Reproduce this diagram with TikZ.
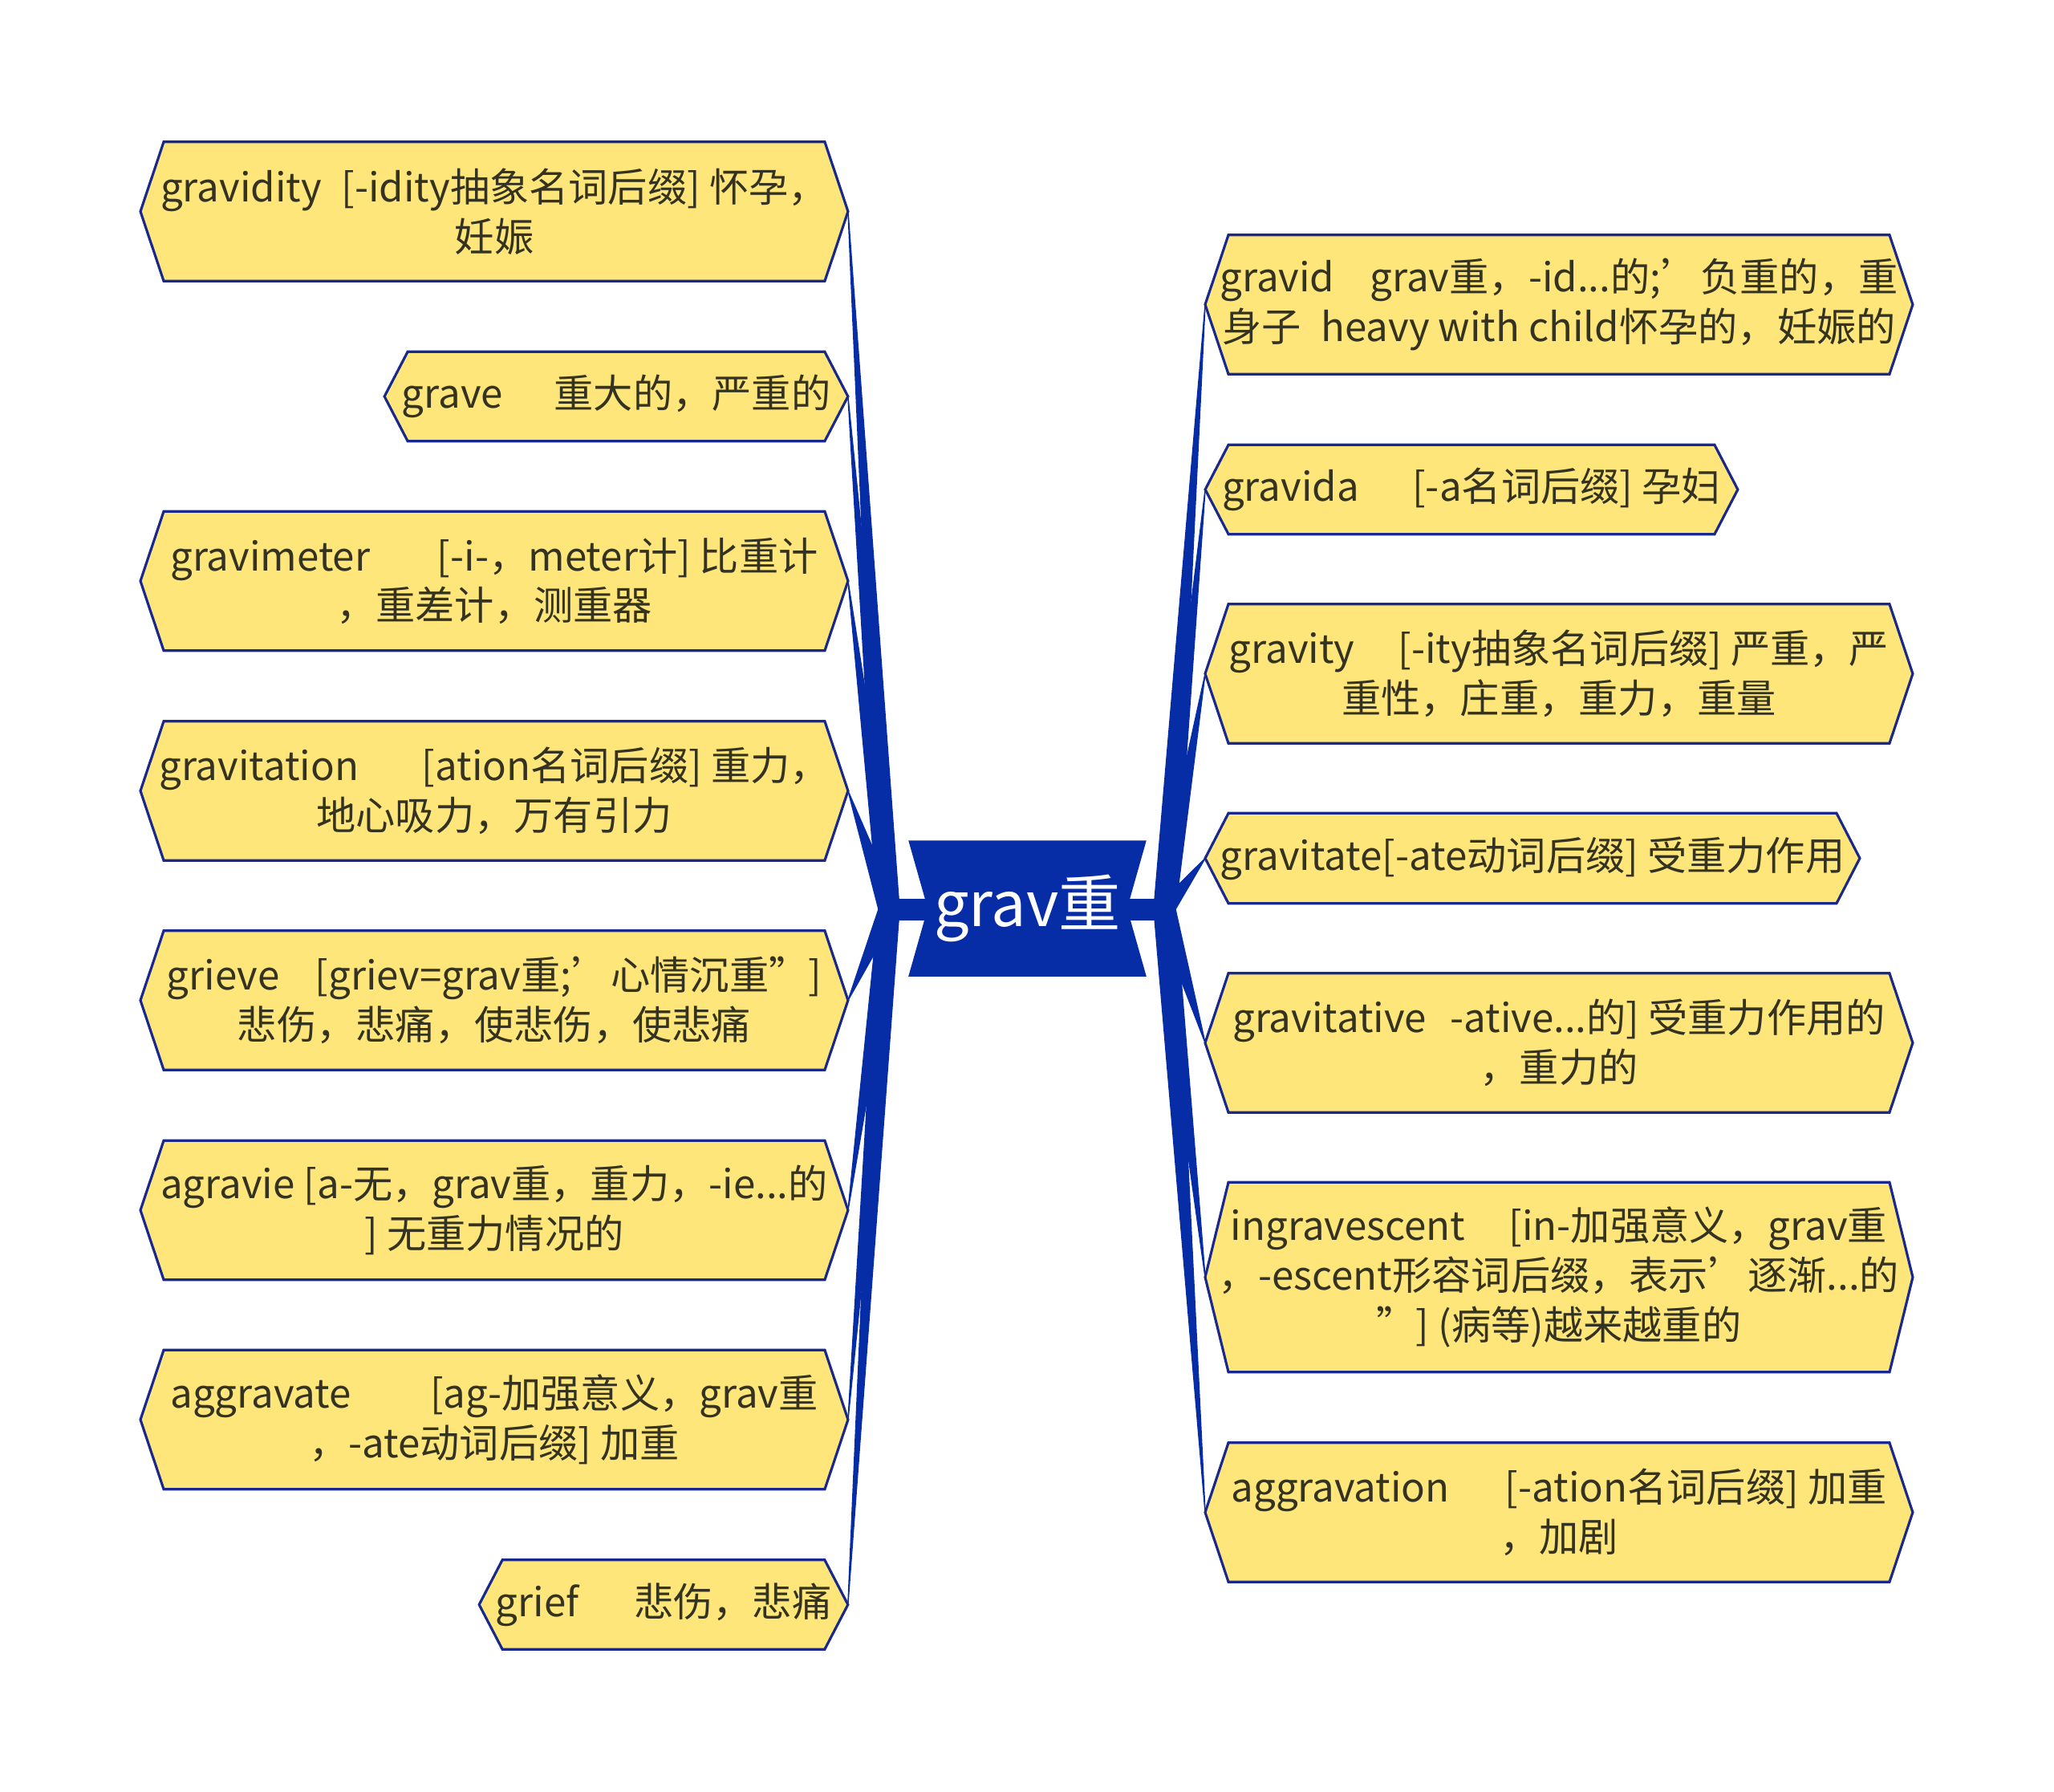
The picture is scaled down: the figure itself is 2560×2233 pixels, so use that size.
\documentclass[tikz,border=0pt]{standalone}
\usepackage{fontspec}
\setmainfont{Noto Sans CJK SC}
\usepackage{xcolor}
\usepackage{tikz}
\usetikzlibrary{calc, backgrounds}
\definecolor{leafyellow}{RGB}{254,230,122}
\definecolor{leafedge}{RGB}{24,40,140}
\definecolor{rootblue}{RGB}{6,44,166}
\definecolor{inkbrown}{RGB}{52,50,32}

\begin{document}
\begin{tikzpicture}[x=0.01cm, y=-0.01cm,
    leaf/.style={inner sep=0pt, minimum width=8.8cm, minimum height=1.72cm, align=center,
        text=inkbrown, font=\fontsize{14pt}{17.6pt}\selectfont},
    hexfill/.style={fill=leafyellow, draw=leafedge, line width=0.9pt, line join=miter},
    branch/.style={fill=rootblue, draw=rootblue, line width=0.4pt, line join=round}]
    \useasboundingbox (0,0) rectangle (2560,2233);
    % Root word
    \node[inner sep=0pt, minimum width=2.95cm, minimum height=1.68cm, text=white,
        font=\fontsize{22pt}{26pt}\selectfont] (root) at (1280.5,1132) {grav重};
    \coordinate (lhubA) at (1095,1133);
    \coordinate (lhubB) at (1121,1133);
    \coordinate (rhubA) at (1438,1133);
    \coordinate (rhubB) at (1465,1133);
    % Left words
    \node[leaf] (gravidity) at (616,263.5) {gravidity\hspace*{0.5em}[-idity抽象名词后缀] 怀孕，\\妊娠};
    \node[leaf, minimum width=5.76cm, minimum height=1.1cm] (grave) at (768,494) {grave\hspace*{1.3em}重大的，严重的};
    \node[leaf] (gravimeter) at (616,724) {gravimeter\hspace*{1.7em}[-i-，meter计] 比重计\\，重差计，测重器};
    \node[leaf] (gravitation) at (616,985.5) {gravitation\hspace*{1.6em}[ation名词后缀] 重力，\\地心吸力，万有引力};
    \node[leaf] (grieve) at (616,1246.5) {grieve\hspace*{0.9em}[griev=grav重;’心情沉重”]\\悲伤，悲痛，使悲伤，使悲痛};
    \node[leaf] (agravie) at (616,1508) {agravie [a-无，grav重，重力，-ie...的\\] 无重力情况的};
    \node[leaf] (aggravate) at (616,1769) {aggravate\hspace*{2em}[ag-加强意义，grav重\\，-ate动词后缀] 加重};
    \node[leaf, minimum width=4.58cm, minimum height=1.1cm] (grief) at (827,1999.5) {grief\hspace*{1.4em}悲伤，悲痛};
    % Right words
    \node[leaf] (gravid) at (1943,379.5) {gravid\hspace*{0.9em}grav重，-id...的;’负重的，重\\身子\hspace*{0.5em}heavy with child怀孕的，妊娠的};
    \node[leaf, minimum width=6.62cm, minimum height=1.1cm] (gravida) at (1834,610) {gravida\hspace*{1.35em}[-a名词后缀] 孕妇};
    \node[leaf] (gravity) at (1943,839.5) {gravity\hspace*{1.1em}[-ity抽象名词后缀] 严重，严\\重性，庄重，重力，重量};
    \node[leaf, minimum width=8.14cm, minimum height=1.11cm] (gravitate) at (1910,1069.5) {gravitate[-ate动词后缀] 受重力作用};
    \node[leaf] (gravitative) at (1943,1299.5) {gravitative\hspace*{0.6em}-ative...的] 受重力作用的\\，重力的};
    \node[leaf, minimum height=2.35cm] (ingravescent) at (1943,1591.5) {ingravescent\hspace*{1.1em}[in-加强意义，grav重\\，-escent形容词后缀，表示’逐渐...的\\”] (病等)越来越重的};
    \node[leaf] (aggravation) at (1943,1884.5) {aggravation\hspace*{1.4em}[-ation名词后缀] 加重\\，加剧};
    % Branches and boxes
    \begin{scope}[on background layer]
        \draw[rootblue, line width=0.27cm] ($(lhubB)+(-12,0)$) -- ($(rhubA)+(12,0)$);
        \foreach \n in {gravidity, grave, gravimeter, gravitation, grieve, agravie, aggravate, grief}
            \filldraw[branch] (\n.east) -- (lhubA) -- (lhubB) -- cycle;
        \foreach \n in {gravid, gravida, gravity, gravitate, gravitative, ingravescent, aggravation}
            \filldraw[branch] (\n.west) -- (rhubB) -- (rhubA) -- cycle;
        \foreach \n in {gravidity, grave, gravimeter, gravitation, grieve, agravie, aggravate, grief,
                gravid, gravida, gravity, gravitate, gravitative, ingravescent, aggravation}
            \filldraw[hexfill] (\n.west) -- ($(\n.north west)+(29,0)$) -- ($(\n.north east)+(-29,0)$)
                -- (\n.east) -- ($(\n.south east)+(-29,0)$) -- ($(\n.south west)+(29,0)$) -- cycle;
        \fill[rootblue] (root.north west) -- (root.north east) -- ($(root.east)+(-24,0)$)
            -- (root.south east) -- (root.south west) -- ($(root.west)+(24,0)$) -- cycle;
    \end{scope}
\end{tikzpicture}
\end{document}
